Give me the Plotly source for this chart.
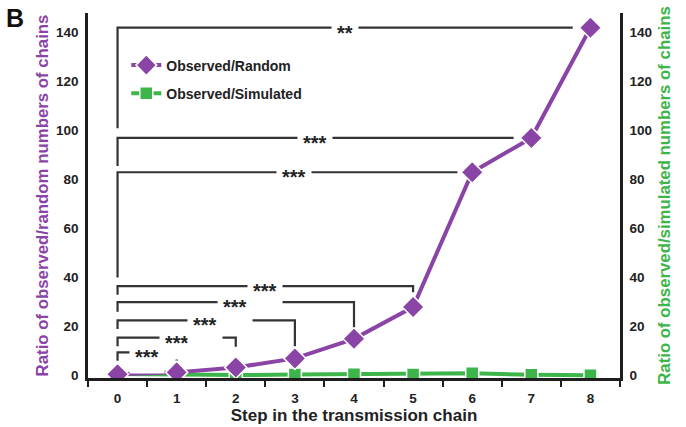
import plotly.graph_objects as go

# Step in the transmission chain
steps = [0, 1, 2, 3, 4, 5, 6, 7, 8]
# Ratio of observed to random numbers of chains
obs_random = [0.5, 1.3, 3.3, 7, 15, 28, 83, 97, 142]
# Ratio of observed to simulated numbers of chains
obs_simulated = [0.6, 0.3, 0.2, 0.4, 0.5, 0.4, 0.9, 0.3, 0.1]

y_ticks = [0, 20, 40, 60, 80, 100, 120, 140]

# Significance brackets, all comparing step 0 against a later step
bracket_end = [1, 2, 3, 4, 5, 5.75, 6.7, 7.7]
bracket_height = [9.5, 15.5, 22.5, 30, 36.5, 83, 97, 142]
bracket_left_bottom = [6, 12, 19, 26, 33, 40, 85.5, 101]
bracket_right_bottom = [6, 11.8, 12, 19.5, 34, 83, 97, 142]
bracket_label = ["***", "***", "***", "***", "***", "***", "***", "**"]
bracket_label_x = [0.5, 1.0, 1.48, 1.98, 2.49, 2.99, 3.34, 3.85]

PURPLE = "#8a44a6"
GREEN = "#3db54a"
INK = "#1e1e1e"
FONT = "Liberation Sans, Arial, sans-serif"

fig = go.Figure()

# Both axes share one scale; the random-ratio series sits on the overlaid
# axis so that it is drawn on top of the simulated-ratio series.
fig.add_trace(go.Scatter(
    x=steps, y=obs_simulated, name="Observed/Simulated", yaxis="y",
    mode="lines+markers", legendrank=2, legendgroup="sim",
    line=dict(color=GREEN, width=4),
    marker=dict(symbol="square", size=13, color=GREEN,
                line=dict(color="white", width=1.5)),
))
fig.add_trace(go.Scatter(
    x=steps, y=obs_random, name="Observed/Random", yaxis="y2",
    mode="lines+markers", legendrank=1, legendgroup="rand",
    line=dict(color=PURPLE, width=4),
    marker=dict(symbol="diamond", size=17, color=PURPLE,
                line=dict(color="white", width=1.5)),
))

for xe, h, lb, rb, lab, lx in zip(bracket_end, bracket_height,
                                  bracket_left_bottom, bracket_right_bottom,
                                  bracket_label, bracket_label_x):
    fig.add_shape(
        type="path", xref="x", yref="y", layer="below",
        path=f"M 0,{lb} L 0,{h} L {xe},{h} L {xe},{rb}",
        line=dict(color="#333333", width=2.2),
    )
    fig.add_annotation(
        x=lx, y=h, xref="x", yref="y", text=f"<b>{lab}</b>",
        showarrow=False, bgcolor="white", borderpad=5, yshift=-5,
        font=dict(family=FONT, size=20, color="#222222"),
    )

# Panel letter
fig.add_annotation(
    x=-0.138, y=0.985, xref="paper", yref="paper", text="<b>B</b>",
    showarrow=False, xanchor="center", yanchor="middle",
    font=dict(family=FONT, size=25, color="#111111"),
)

axis_font = dict(family=FONT, size=13.5, color="#222222", weight="bold")

fig.update_layout(
    width=686, height=427,
    margin=dict(l=88, r=66, t=13, b=48.5),
    plot_bgcolor="white", paper_bgcolor="white",
    font=dict(family=FONT),
    showlegend=True,
    legend=dict(
        x=0.072, y=0.9, xanchor="left", yanchor="top",
        bgcolor="rgba(0,0,0,0)", tracegroupgap=7,
        font=dict(family=FONT, size=14, color="#222222", weight="bold"),
    ),
    xaxis=dict(
        range=[-0.5, 8.5], tickvals=steps, ticks="", automargin=False,
        showline=True, linecolor=INK, linewidth=2.5, showgrid=False,
        zeroline=False, tickfont=axis_font, ticklabelstandoff=6,
        minor=dict(tickvals=[s - 0.5 for s in steps] + [8.5],
                   ticks="outside", ticklen=6, tickwidth=2, tickcolor=INK,
                   showgrid=False),
        title=dict(text="<b>Step in the transmission chain</b>",
                   font=dict(family=FONT, size=17, color="#222222"),
                   standoff=2),
    ),
    yaxis=dict(
        range=[-1, 148], tickvals=y_ticks, ticks="", automargin=False,
        showline=True, linecolor=INK, linewidth=2.5, showgrid=False,
        zeroline=False, tickfont=axis_font, ticklabelstandoff=4,
        title=dict(text="<b>Ratio of observed/random numbers of chains</b>",
                   font=dict(family=FONT, size=16.8, color=PURPLE),
                   standoff=4),
    ),
    yaxis2=dict(
        range=[-1, 148], tickvals=y_ticks, ticks="", overlaying="y",
        side="right", anchor="x", automargin=False,
        showline=True, linecolor=INK, linewidth=2.5, showgrid=False,
        zeroline=False, tickfont=axis_font, ticklabelstandoff=4,
        title=dict(text="<b>Ratio of observed/simulated numbers of chains</b>",
                   font=dict(family=FONT, size=16.8, color=GREEN),
                   standoff=8),
    ),
)

fig.write_html("out.html")
